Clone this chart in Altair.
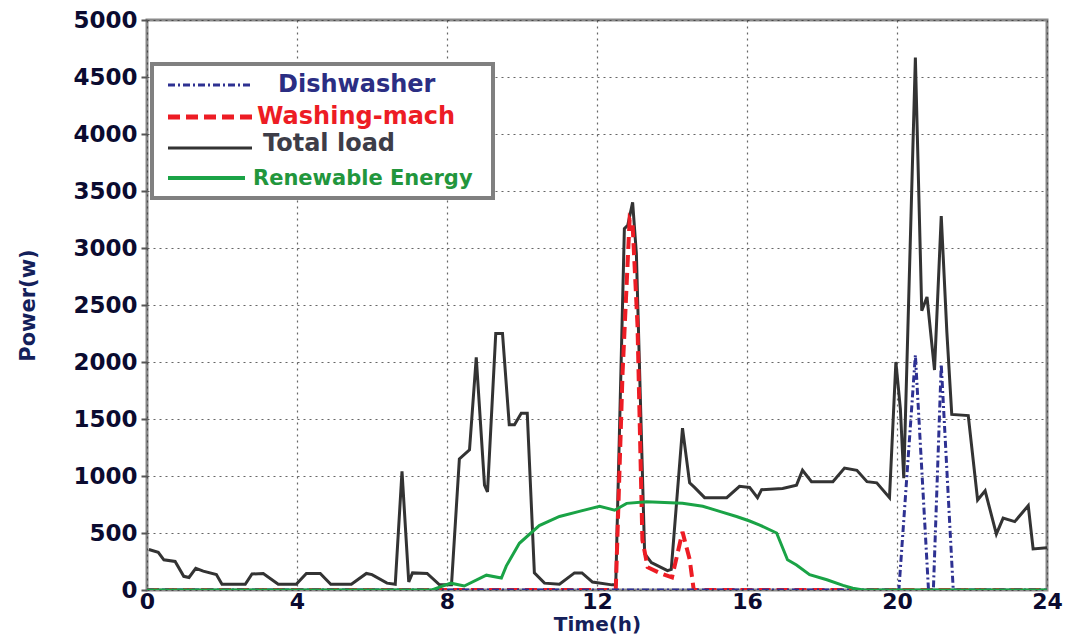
import altair as alt
import pandas as pd

# ---------------- data ----------------
series_names = ["Dishwasher", "Washing-mach", "Total load", "Renewable Energy"]

total_t = [0.05, 0.3, 0.45, 0.75, 0.98, 1.12, 1.3, 1.5, 1.85, 2.0, 2.62, 2.8, 3.1, 3.5, 3.98,
           4.25, 4.62, 4.9, 5.45, 5.85, 6.0, 6.4, 6.62, 6.8, 6.98, 7.08, 7.47, 7.8, 8.12,
           8.33, 8.6, 8.78, 9.0, 9.08, 9.3, 9.48, 9.66, 9.8, 9.98, 10.14, 10.33, 10.6, 11.0,
           11.4, 11.6, 11.88, 12.4, 12.5, 12.73, 12.82, 12.95, 13.05, 13.27, 13.45, 13.88,
           13.98, 14.28, 14.47, 14.6, 14.87, 15.46, 15.8, 16.07, 16.28, 16.39, 16.95, 17.32,
           17.48, 17.72, 18.29, 18.6, 18.93, 19.2, 19.46, 19.8, 19.97, 20.09, 20.18, 20.49,
           20.66, 20.8, 21.0, 21.18, 21.33, 21.46, 21.9, 22.15, 22.35, 22.65, 22.83, 23.14,
           23.5, 23.63, 24.0]
total_w = [355, 330, 265, 250, 120, 110, 190, 165, 135, 50, 50, 140, 145, 50, 50,
           145, 145, 50, 50, 145, 135, 60, 50, 1040, 70, 150, 145, 45, 45,
           1150, 1230, 2040, 920, 860, 2250, 2250, 1450, 1450, 1550, 1550, 150, 60, 50,
           150, 150, 70, 45, 45, 3170, 3200, 3400, 2950, 320, 240, 170,
           180, 1420, 940, 900, 810, 810, 910, 900, 810, 880, 890, 920,
           1050, 950, 950, 1070, 1050, 950, 940, 810, 2000, 1590, 980, 4670,
           2450, 2570, 1930, 3280, 2260, 1540, 1530, 790, 870, 490, 630, 600,
           740, 360, 370]

wash_t = [0, 12.5, 12.68, 12.87, 12.95, 13.08, 13.21, 13.35, 13.67, 14.0, 14.28, 14.47, 14.58, 24]
wash_w = [0, 0, 1890, 3250, 3200, 2320, 440, 200, 150, 110, 510, 270, 0, 0]

dish_t = [0, 20.05, 20.49, 20.84, 20.97, 21.18, 21.5, 24]
dish_w = [0, 0, 2060, 0, 0, 1980, 0, 0]

ren_t = [0, 7.6, 8.1, 8.46, 9.05, 9.45, 9.58, 9.93, 10.46, 11.0, 11.53, 12.07, 12.47, 12.79,
         13.32, 14.28, 14.82, 15.27, 15.72, 16.07, 16.34, 16.79, 17.08, 17.32, 17.67, 18.13,
         18.56, 18.82, 19.1, 24]
ren_w = [0, 0, 60, 35, 130, 105, 210, 410, 565, 645, 690, 735, 700, 760,
         775, 760, 735, 690, 645, 605, 570, 500, 265, 220, 135, 90,
         40, 15, 0, 0]

x_ticks = [0, 4, 8, 12, 16, 20, 24]
y_ticks = [0, 500, 1000, 1500, 2000, 2500, 3000, 3500, 4000, 4500, 5000]

# ---------------- chart ----------------
FONT = "DejaVu Sans"

x_enc = alt.X("t:Q",
              scale=alt.Scale(domain=[0, 24], nice=False, zero=False),
              axis=alt.Axis(values=x_ticks, title="Time(h)", format="d"))
y_enc = alt.Y("w:Q",
              scale=alt.Scale(domain=[0, 5000], nice=False),
              axis=alt.Axis(values=y_ticks, title="Power(w)", format="d"))


def series(t, w, color, width, dash=None):
    df = pd.DataFrame({"t": t, "w": w})
    kw = dict(color=color, strokeWidth=width, clip=True)
    if dash:
        kw["strokeDash"] = dash
    return alt.Chart(df).mark_line(**kw).encode(x=x_enc, y=y_enc)


BLUE = "#2e3192"
RED = "#ed1c24"
BLACK = "#333333"
GREEN = "#1aa346"
DISH_DASH = [7, 3, 2, 3]
WASH_DASH = [12, 6]

total_line = series(total_t, total_w, BLACK, 3)
wash_line = series(wash_t, wash_w, RED, 4, WASH_DASH)
dish_line = series(dish_t, dish_w, BLUE, 3, DISH_DASH)
ren_line = series(ren_t, ren_w, GREEN, 3)

# ---------------- custom legend ----------------
one = pd.DataFrame({"k": [0]})
legend_box = alt.Chart(one).mark_rect(fill="white", stroke="#808080", strokeWidth=4).encode(
    x=alt.value(5), x2=alt.value(346), y=alt.value(44), y2=alt.value(178))


def leg_line(x1, x2, y, color, width, dash=None):
    kw = dict(color=color, strokeWidth=width)
    if dash:
        kw["strokeDash"] = dash
    return alt.Chart(one).mark_rule(**kw).encode(
        x=alt.value(x1), x2=alt.value(x2), y=alt.value(y))


def leg_text(label, x, y, color, size):
    return alt.Chart(one).mark_text(text=label, align="left", baseline="alphabetic",
                                    font=FONT, fontWeight="bold", fontSize=size,
                                    color=color).encode(x=alt.value(x), y=alt.value(y))


legend_layers = [
    legend_box,
    leg_line(21, 105, 65, BLUE, 3, DISH_DASH),
    leg_text(series_names[0], 131, 72, "#2b2e83", 24),
    leg_line(21, 106, 97, RED, 5, WASH_DASH),
    leg_text(series_names[1], 110, 104, RED, 24),
    leg_line(21, 105, 128, BLACK, 3),
    leg_text(series_names[2], 116, 131, "#3d3d48", 24),
    leg_line(21, 98, 158, GREEN, 4),
    leg_text(series_names[3], 106, 165, "#22963c", 21),
]

chart = alt.layer(total_line, wash_line, dish_line, ren_line, *legend_layers).properties(
    width=900,
    height=570,
    autosize=alt.AutoSizeParams(type="none"),
    padding={"left": 139, "top": 12, "right": 22, "bottom": 44},
    background="white",
).configure_view(
    stroke="#8a8a8a", strokeWidth=3
).configure_axis(
    labelFont=FONT, labelFontWeight="bold", labelFontSize=23, labelColor="#0b0b30",
    titleFont=FONT, titleFontWeight="bold", titleFontSize=22, titleColor="#14205a",
    grid=True, gridColor="#333333", gridDash=[2, 4], gridWidth=1.2, gridOpacity=0.75,
    domain=False,
).configure_axisX(
    ticks=False, labelPadding=1, labelFontSize=22, titlePadding=2, titleFontSize=20,
    labelFlush=False,
).configure_axisY(
    ticks=True, tickSize=6, tickColor="#555555", tickWidth=2, labelPadding=4,
    titlePadding=34, titleFontSize=21,
)

chart.save("out.html", embed_options={"renderer": "svg", "actions": False})
